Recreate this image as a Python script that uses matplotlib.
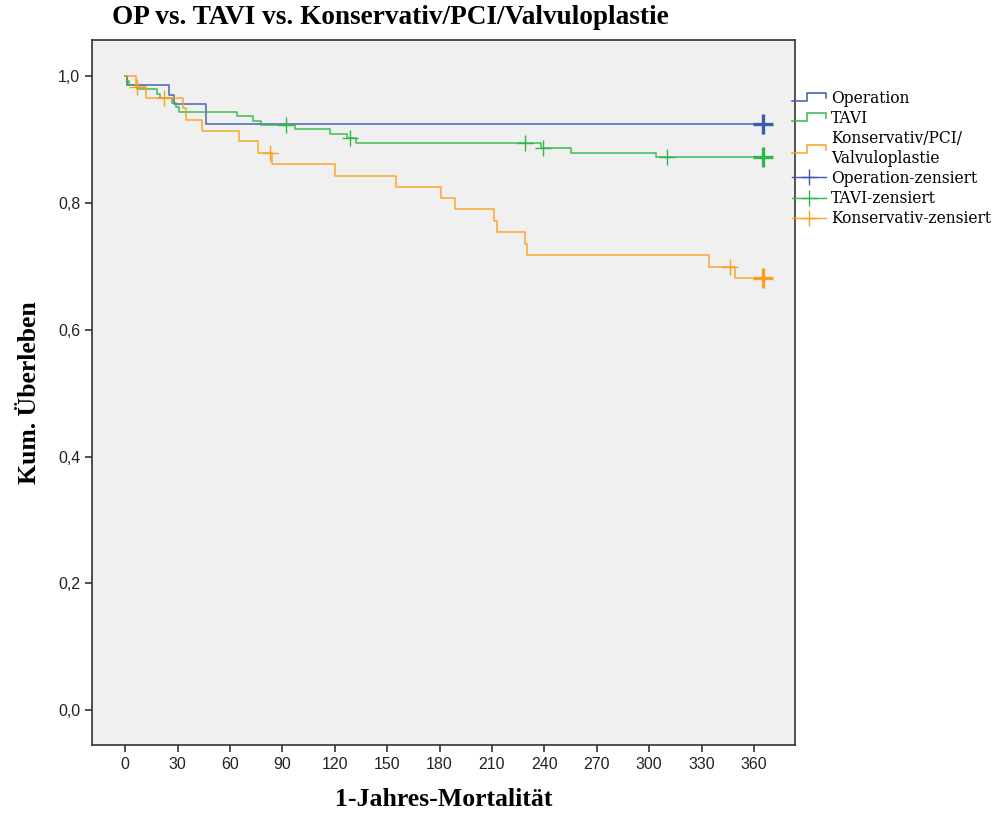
import numpy as np
import matplotlib
matplotlib.use("Agg")
import matplotlib.pyplot as plt
from matplotlib.lines import Line2D
from matplotlib.legend_handler import HandlerBase

# Kaplan-Meier Stufen (Tage, kumulatives Ueberleben)
op_t = [0, 1, 25, 28, 46]
op_s = [1.0, 0.986, 0.971, 0.956, 0.925]
op_cens = [365]

tavi_t = [0, 1, 2, 7, 18, 20, 27, 29, 31, 64, 73, 78, 97, 117, 127, 132, 238, 255, 304]
tavi_s = [1.0, 0.993, 0.986, 0.979, 0.972, 0.965, 0.958, 0.951, 0.944, 0.937,
          0.930, 0.923, 0.916, 0.909, 0.902, 0.895, 0.887, 0.879, 0.872]
tavi_cens = [92, 129, 229, 239, 310, 365]

kons_t = [0, 6, 12, 33, 35, 44, 65, 76, 84, 120, 155, 181, 189, 211, 213, 229, 230, 334, 349]
kons_s = [1.0, 0.983, 0.966, 0.949, 0.931, 0.914, 0.897, 0.879, 0.861, 0.843,
          0.825, 0.807, 0.790, 0.772, 0.754, 0.736, 0.718, 0.699, 0.681]
kons_cens = [7, 22, 83, 346, 365]

t_end = 365
x_ticks = list(range(0, 361, 30))
y_ticks = [0.0, 0.2, 0.4, 0.6, 0.8, 1.0]
y_ticklabels = ["0,0", "0,2", "0,4", "0,6", "0,8", "1,0"]

BLUE = "#3e58ac"
GREEN = "#2eb848"
ORANGE = "#fba01d"

SERIF = ["Liberation Serif", "DejaVu Serif"]
SANS = ["Liberation Sans", "DejaVu Sans"]


def surv_at(t, s, c):
    i = np.searchsorted(t, c, side="right") - 1
    return np.asarray(s)[i]


class StepHandler(HandlerBase):
    def create_artists(self, legend, orig_handle, xdescent, ydescent,
                       width, height, fontsize, trans):
        x0 = -xdescent
        y0 = -ydescent
        xs = [x0, x0 + width * 0.45, x0 + width * 0.45, x0 + width, x0 + width]
        ys = [y0 + height * 0.15, y0 + height * 0.15, y0 + height * 0.95,
              y0 + height * 0.95, y0 + height * 0.45]
        ln = Line2D(xs, ys, color=orig_handle.get_color(), lw=1.1, transform=trans)
        return [ln]


fig = plt.figure(figsize=(10, 8.23), dpi=100)
ax = fig.add_axes([0.092, 0.0948, 0.703, 0.8566])
ax.set_facecolor("#f0f0f0")

groups = [
    (op_t, op_s, op_cens, BLUE),
    (tavi_t, tavi_s, tavi_cens, GREEN),
    (kons_t, kons_s, kons_cens, ORANGE),
]
for t, s, cens, col in groups:
    xs = list(t) + [t_end]
    ys = list(s) + [s[-1]]
    ax.step(xs, ys, where="post", color=col, lw=1.2, alpha=0.85)
    mid = [c for c in cens if c < t_end]
    ax.plot(mid, surv_at(t, s, mid), linestyle="none", marker="+",
            markersize=11, mew=1.0, color=col)
    last = [c for c in cens if c >= t_end]
    ax.plot(last, surv_at(t, s, last), linestyle="none", marker="+",
            markersize=14, mew=2.4, color=col)

ax.set_xlim(-19, 383.5)
ax.set_ylim(-0.055, 1.057)
ax.set_xticks(x_ticks)
ax.set_xticklabels([str(v) for v in x_ticks], family=SANS, fontsize=11.5, color="#222222")
ax.set_yticks(y_ticks)
ax.set_yticklabels(y_ticklabels, family=SANS, fontsize=11.5, color="#222222")
ax.tick_params(direction="out", length=5, width=1.2, color="#333333")
for sp in ax.spines.values():
    sp.set_color("#333333")
    sp.set_linewidth(1.2)

ax.set_xlabel("1-Jahres-Mortalität", family=SERIF, fontweight="bold", fontsize=18.5, labelpad=12)
ax.set_ylabel("Kum. Überleben", family=SERIF, fontweight="bold", fontsize=18.5, labelpad=12)
fig.text(0.112, 1 - 18 / 823, "OP vs. TAVI vs. Konservativ/PCI/Valvuloplastie",
         family=SERIF, fontweight="bold", fontsize=19.6, ha="left", va="center")

h_op = Line2D([], [], color=BLUE)
h_tavi = Line2D([], [], color=GREEN)
h_kons = Line2D([], [], color=ORANGE)
h_c_op = Line2D([0], [0], color=BLUE, lw=1.0, marker="+", markersize=12, mew=1.0)
h_c_tavi = Line2D([0], [0], color=GREEN, lw=1.0, marker="+", markersize=12, mew=1.0)
h_c_kons = Line2D([0], [0], color=ORANGE, lw=1.0, marker="+", markersize=12, mew=1.0)
labels = ["Operation", "TAVI", "Konservativ/PCI/\nValvuloplastie",
          "Operation-zensiert", "TAVI-zensiert", "Konservativ-zensiert"]
leg = fig.legend([h_op, h_tavi, h_kons, h_c_op, h_c_tavi, h_c_kons], labels,
                 loc="upper left", bbox_to_anchor=(0.792, 1 - 90 / 823),
                 frameon=False, prop={"family": ["DejaVu Serif"], "size": 11.2},
                 handlelength=2.2, handletextpad=0.3, labelspacing=0.2,
                 borderaxespad=0, borderpad=0, numpoints=1,
                 handler_map={h_op: StepHandler(), h_tavi: StepHandler(), h_kons: StepHandler()})
for txt in leg.get_texts():
    txt.set_linespacing(1.2)

fig.savefig("out.png", dpi=100, facecolor="white")
